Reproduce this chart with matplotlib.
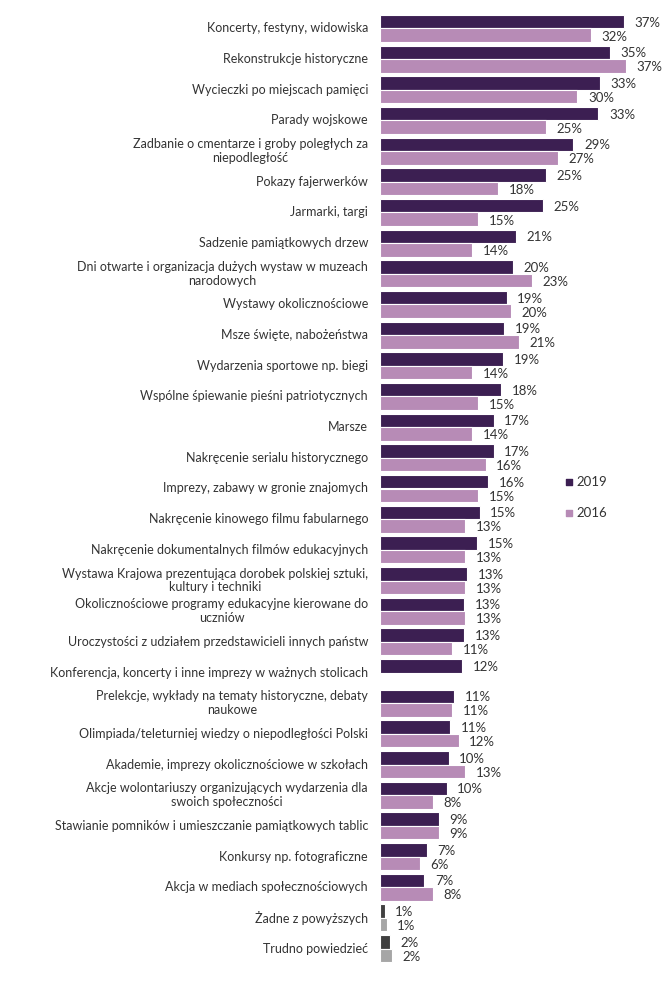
import numpy as np
import matplotlib
matplotlib.use('Agg')
import matplotlib.pyplot as plt

plt.rcParams['font.family'] = ['Lato', 'DejaVu Sans']

# kategorie (od góry)
categories = [
    'Koncerty, festyny, widowiska',
    'Rekonstrukcje historyczne',
    'Wycieczki po miejscach pamięci',
    'Parady wojskowe',
    'Zadbanie o cmentarze i groby poległych za\nniepodległość',
    'Pokazy fajerwerków',
    'Jarmarki, targi',
    'Sadzenie pamiątkowych drzew',
    'Dni otwarte i organizacja dużych wystaw w muzeach\nnarodowych',
    'Wystawy okolicznościowe',
    'Msze święte, nabożeństwa',
    'Wydarzenia sportowe np. biegi',
    'Wspólne śpiewanie pieśni patriotycznych',
    'Marsze',
    'Nakręcenie serialu historycznego',
    'Imprezy, zabawy w gronie znajomych',
    'Nakręcenie kinowego filmu fabularnego',
    'Nakręcenie dokumentalnych filmów edukacyjnych',
    'Wystawa Krajowa prezentująca dorobek polskiej sztuki,\nkultury i techniki',
    'Okolicznościowe programy edukacyjne kierowane do\nuczniów',
    'Uroczystości z udziałem przedstawicieli innych państw',
    'Konferencja, koncerty i inne imprezy w ważnych stolicach',
    'Prelekcje, wykłady na tematy historyczne, debaty\nnaukowe',
    'Olimpiada/teleturniej wiedzy o niepodległości Polski',
    'Akademie, imprezy okolicznościowe w szkołach',
    'Akcje wolontariuszy organizujących wydarzenia dla\nswoich społeczności',
    'Stawianie pomników i umieszczanie pamiątkowych tablic',
    'Konkursy np. fotograficzne',
    'Akcja w mediach społecznościowych',
    'Żadne z powyższych',
    'Trudno powiedzieć',
]

v2019 = [36.9, 34.8, 33.3, 33.1, 29.3, 25.1, 24.7, 20.6, 20.1, 19.2,
         18.8, 18.7, 18.4, 17.2, 17.2, 16.4, 15.1, 14.7, 13.2, 12.8,
         12.7, 12.4, 11.2, 10.6, 10.4, 10.1, 8.9, 7.1, 6.7, 0.7, 1.5]
v2016 = [32.0, 37.2, 29.9, 25.1, 27.0, 17.9, 14.9, 14.0, 23.0, 19.9,
         21.0, 14.0, 14.9, 14.0, 16.0, 14.9, 12.9, 12.9, 12.9, 12.9,
         10.9, np.nan, 10.9, 11.9, 12.9, 8.0, 8.9, 6.0, 8.0, 1.0, 1.8]

c2019 = '#3c1f52'
c2016 = '#b78bb6'
grey_dark = '#404040'
grey_light = '#a6a6a6'
txt = '#333333'

fig = plt.figure(figsize=(6.69, 9.82), dpi=100)
ax = fig.add_axes([380 / 669, 0, 1 - 380 / 669, 1])

n = len(categories)
y = np.arange(n)
h = 0.44
col19 = [c2019] * (n - 2) + [grey_dark] * 2
col16 = [c2016] * (n - 2) + [grey_light] * 2

ax.barh(y - h / 2, v2019, height=h, color=col19, edgecolor='white', linewidth=0.8)
ax.barh(y + h / 2, np.nan_to_num(v2016), height=h, color=col16, edgecolor='white', linewidth=0.8)

for i in range(n):
    ax.text(v2019[i] + 1.6, y[i] - h / 2 + 0.03, f'{v2019[i]:.0f}%', va='center', ha='left',
            fontsize=9.5, color=txt)
    if not np.isnan(v2016[i]):
        ax.text(v2016[i] + 1.6, y[i] + h / 2 + 0.05, f'{v2016[i]:.0f}%', va='center', ha='left',
                fontsize=9.5, color=txt)
    ax.text(-1.8, y[i], categories[i], va='center', ha='right', multialignment='center',
            fontsize=9, color=txt, linespacing=1.15)

pitch = (962 - 15) / (n - 1 + 2 * h)
ax.set_ylim(n - 1 + h + 20 / pitch, -h - 15 / pitch)
ax.set_xlim(0, 289 / 6.6)
ax.axis('off')

# legenda
ax.scatter([28.7], [14.8], marker='s', s=16, color=c2019, clip_on=False)
ax.text(29.8, 14.8, '2019', va='center', ha='left', fontsize=9.5, color=txt)
ax.scatter([28.7], [15.8], marker='s', s=16, color=c2016, clip_on=False)
ax.text(29.8, 15.8, '2016', va='center', ha='left', fontsize=9.5, color=txt)

fig.savefig('out.png', dpi=100)
